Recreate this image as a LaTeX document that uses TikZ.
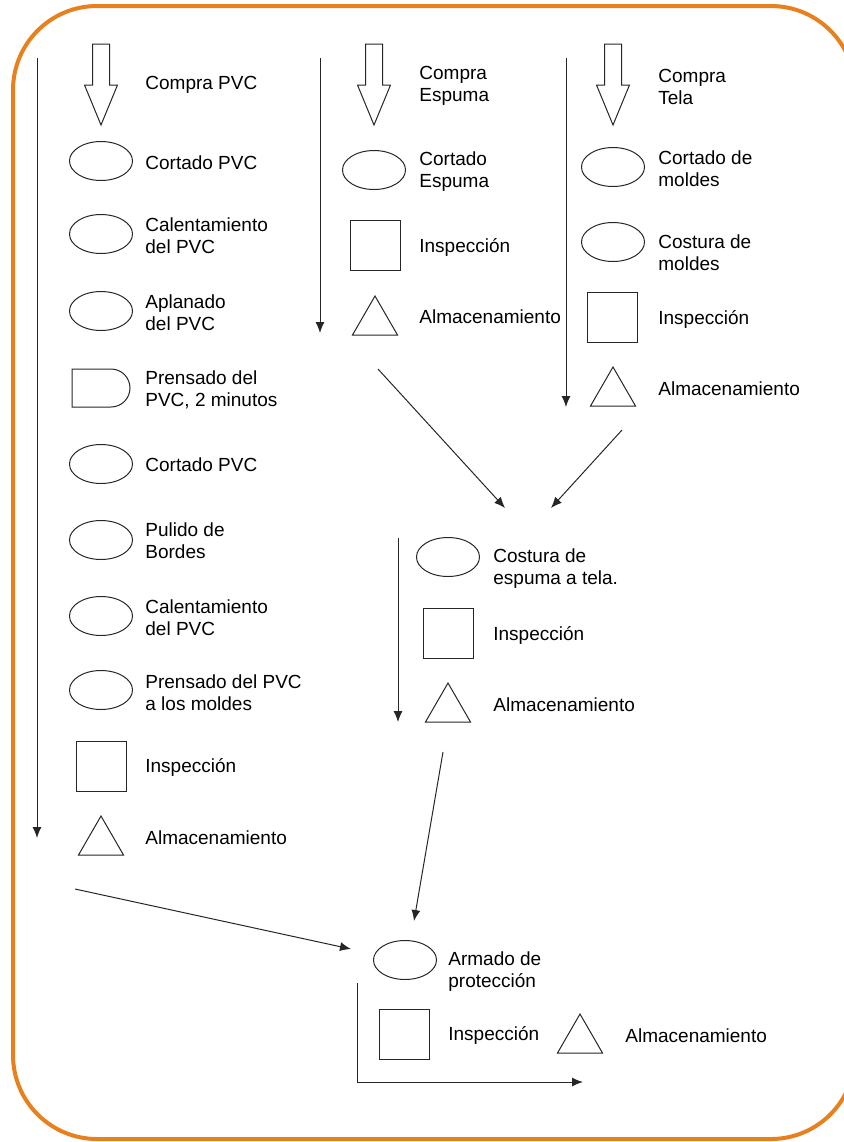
\documentclass[tikz,border=0pt]{standalone}
\usepackage{fontspec}
\setmainfont{Liberation Sans}
\usetikzlibrary{shapes.geometric,shapes.misc,arrows.meta}
\definecolor{borde}{RGB}{232,128,30}
\begin{document}
\begin{tikzpicture}[x=0.5pt,y=-0.5pt,
  lin/.style={line width=0.5pt,black!85},
  fl/.style={lin,-{Latex[length=5.5pt,width=4.5pt]}},
  oper/.style={ellipse,draw,lin,minimum width=31.5pt,minimum height=19.5pt,inner sep=0},
  insp/.style={rectangle,draw,lin,minimum size=25pt,inner sep=0},
  alm/.style={regular polygon,regular polygon sides=3,draw,lin,minimum size=26pt,inner sep=0},
  demora/.style={rounded rectangle,rounded rectangle left arc=none,draw,lin,minimum width=29pt,minimum height=19pt,inner sep=0},
  txt/.style={anchor=west,align=left,inner sep=0,yshift=-1pt,font=\fontsize{9.5}{11}\selectfont}]
\useasboundingbox (0,0) rectangle (843,1142);
\draw[borde,line width=2pt,rounded corners=42pt] (13,6) rectangle (855,1139);
% Compra
\foreach \cx in {101,374,613}
  \draw[lin] (\cx-8.5,44) -- (\cx+8.5,44) -- (\cx+8.5,85) -- (\cx+16.5,85) -- (\cx,125)
    -- (\cx-16.5,85) -- (\cx-8.5,85) -- cycle;
% PVC
\foreach \y/\n in {161/a,234/b,311/c,464/d,540/e,616/f,690/g}
  \node[oper] (pvc\n) at (101,\y) {};
\node[demora] (pvcdem) at (101,388) {};
\node[insp] (pvcins) at (101,766) {};
\node[alm] (pvcalm) at (101,842) {};
\node[txt] (tpvc0) at (145,83)  {Compra PVC};
\node[txt] (tpvc1) at (145,161) {Cortado PVC};
\node[txt] (tpvc2) at (145,234) {Calentamiento\\del PVC};
\node[txt] (tpvc3) at (145,311) {Aplanado\\del PVC};
\node[txt] (tpvc4) at (145,388) {Prensado del\\PVC, 2 minutos};
\node[txt] (tpvc5) at (145,463) {Cortado PVC};
\node[txt] (tpvc6) at (145,539) {Pulido de\\Bordes};
\node[txt] (tpvc7) at (145,616) {Calentamiento\\del PVC};
\node[txt] (tpvc8) at (145,691) {Prensado del PVC\\a los moldes};
\node[txt] (tpvc9) at (145,765) {Inspección};
\node[txt] (tpvc10) at (145,836) {Almacenamiento};
% Espuma
\node[oper] (espa) at (374,170) {};
\node[insp] (espins) at (375,245) {};
\node[alm] (espalm) at (375,322) {};
\node[txt] (tesp0) at (419,84)  {Compra\\Espuma};
\node[txt] (tesp1) at (419,170) {Cortado\\Espuma};
\node[txt] (tesp2) at (419,245) {Inspección};
\node[txt] (tesp3) at (419,315) {Almacenamiento};
% Tela
\node[oper] (telaa) at (613,167) {};
\node[oper] (telab) at (613,242) {};
\node[insp] (telains) at (612,317) {};
\node[alm] (telaalm) at (613,393) {};
\node[txt] (ttela0) at (658,85)  {Compra\\Tela};
\node[txt] (ttela1) at (658,167) {Cortado de\\moldes};
\node[txt] (ttela2) at (658,251) {Costura de\\moldes};
\node[txt] (ttela3) at (658,317) {Inspección};
\node[txt] (ttela4) at (658,387) {Almacenamiento};
% Costura espuma a tela
\node[oper] (costa) at (448,557) {};
\node[insp] (costins) at (448,633) {};
\node[alm] (costalm) at (448,709) {};
\node[txt] (tcost1) at (493,567) {Costura de\\espuma a tela.};
\node[txt] (tcost2) at (493,633) {Inspección};
\node[txt] (tcost3) at (493,703) {Almacenamiento};
% Armado
\node[oper] (arma) at (405,960) {};
\node[insp] (armins) at (404,1034) {};
\node[alm] (armalm) at (580,1040) {};
\node[txt] (tarm1) at (448,970)  {Armado de\\protección};
\node[txt] (tarm2) at (448,1033) {Inspección};
\node[txt] (tarm3) at (625,1034) {Almacenamiento};
% Flujos
\coordinate (v1a) at (37,58);   \coordinate (v1b) at (37,838);
\coordinate (v2a) at (320,58);  \coordinate (v2b) at (320,333);
\coordinate (v3a) at (566,58);  \coordinate (v3b) at (566,407);
\coordinate (v4a) at (398,538); \coordinate (v4b) at (398,722);
\coordinate (v5a) at (357,983); \coordinate (v5b) at (357,1082); \coordinate (v5c) at (583,1082);
\coordinate (d1a) at (378,369); \coordinate (d1b) at (505,508);
\coordinate (d2a) at (622,430); \coordinate (d2b) at (551,508);
\coordinate (d3a) at (443,752); \coordinate (d3b) at (414,921);
\coordinate (d4a) at (75,889);  \coordinate (d4b) at (351,949);
\draw[fl] (v1a) -- (v1b);
\draw[fl] (v2a) -- (v2b);
\draw[fl] (v3a) -- (v3b);
\draw[fl] (v4a) -- (v4b);
\draw[fl] (v5a) -- (v5b) -- (v5c);
\draw[fl] (d1a) -- (d1b);
\draw[fl] (d2a) -- (d2b);
\draw[fl] (d3a) -- (d3b);
\draw[fl] (d4a) -- (d4b);
\end{tikzpicture}
\end{document}
